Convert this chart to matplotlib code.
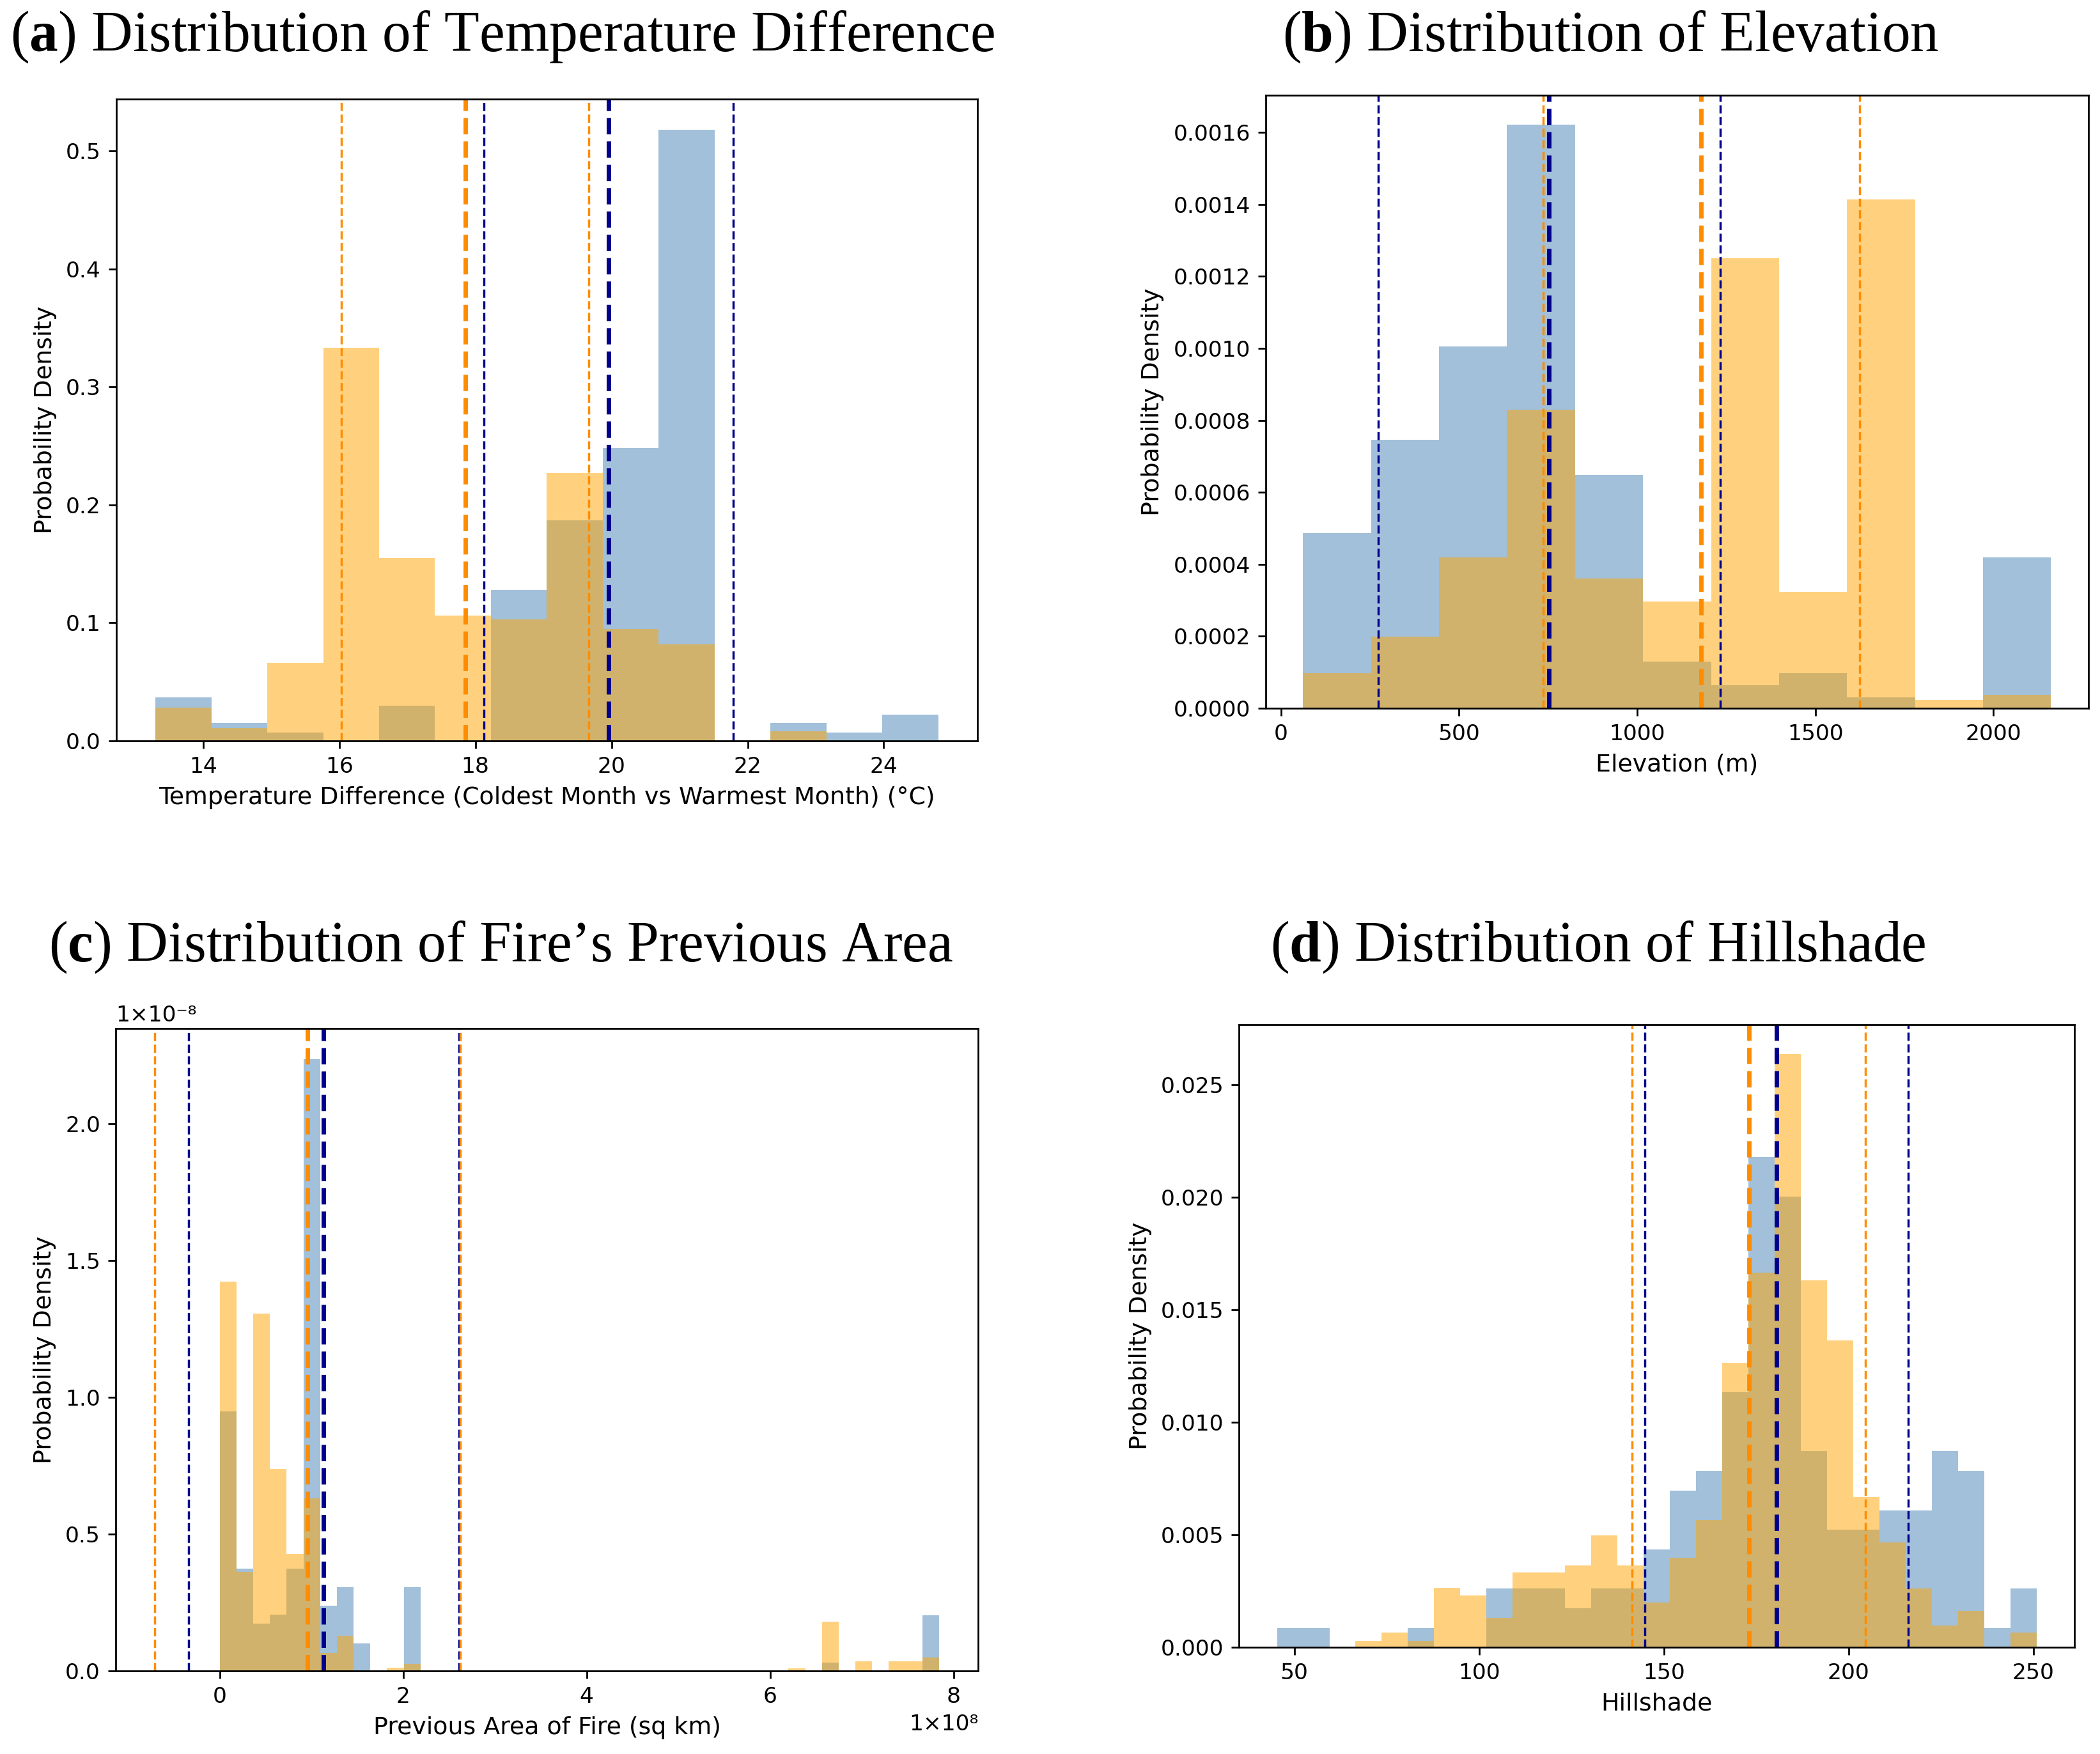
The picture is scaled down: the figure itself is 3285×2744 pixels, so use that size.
import numpy as np
import matplotlib
matplotlib.use('Agg')
import matplotlib.pyplot as plt
from matplotlib import ticker

# ---- data (densities per bin) ----
# (a) temperature difference, 14 shared bins
temp_lo, temp_hi, temp_nbins = 13.30, 24.80, 14
temp_no_fire = [0.037, 0.015, 0.007, 0.0, 0.030, 0.0, 0.128, 0.187, 0.248, 0.518, 0.0, 0.015, 0.007, 0.0225]
temp_fire = [0.028, 0.011, 0.066, 0.333, 0.155, 0.106, 0.103, 0.227, 0.095, 0.082, 0.0, 0.008, 0.0, 0.0]
temp_mean = {'no_fire': 19.96, 'fire': 17.85}
temp_std = {'no_fire': 1.83, 'fire': 1.815}

# (b) elevation, 11 shared bins
elev_lo, elev_hi, elev_nbins = 62, 2162, 11
elev_no_fire = [0.000486, 0.000746, 0.001005, 0.001622, 0.000648, 0.000130,
                0.0000648, 0.0000971, 0.000031, 0.0, 0.000419]
elev_fire = [0.0000971, 0.000199, 0.000419, 0.000829, 0.000361, 0.000296,
             0.001251, 0.000324, 0.001413, 0.0000235, 0.0000368]
elev_mean = {'no_fire': 753, 'fire': 1180}
elev_std = {'no_fire': 480, 'fire': 444}

# (c) previous area of fire (x in 1e8, density in 1e-8), 43 shared bins
area_lo, area_hi, area_nbins = 0.0, 7.84e8, 43
area_no_fire = [0.949, 0.373, 0.172, 0.206, 0.373, 2.238, 0.238, 0.306, 0.0998, 0.0,
                0.0, 0.306, 0.0, 0.0, 0.0, 0.0, 0.0, 0.0, 0.0, 0.0,
                0.0, 0.0, 0.0, 0.0, 0.0, 0.0, 0.0, 0.0, 0.0, 0.0,
                0.0, 0.0, 0.0, 0.0, 0.0, 0.0, 0.031, 0.0, 0.0, 0.0,
                0.0, 0.0, 0.203]
area_fire = [1.424, 0.3625, 1.307, 0.739, 0.427, 0.631, 0.0645, 0.129, 0.0, 0.0,
             0.0108, 0.0246, 0.0, 0.0, 0.0, 0.0, 0.0, 0.0, 0.0, 0.0,
             0.0, 0.0, 0.0, 0.0, 0.0, 0.0, 0.0, 0.0, 0.0, 0.0,
             0.0, 0.0, 0.0, 0.0, 0.0101, 0.0, 0.180, 0.0, 0.0357, 0.0,
             0.0357, 0.0357, 0.048]
area_mean = {'no_fire': 1.133e8, 'fire': 0.956e8}
area_std = {'no_fire': 1.473e8, 'fire': 1.663e8}

# (d) hillshade, 29 shared bins
hill_lo, hill_hi, hill_nbins = 45.3, 250.9, 29
hill_no_fire = [0.00085, 0.00085, 0.0, 0.0, 0.0, 0.00085, 0.0, 0.0, 0.00261, 0.00261,
                0.00261, 0.00172, 0.00261, 0.00261, 0.00435, 0.00697, 0.00784, 0.01134, 0.0218, 0.02004,
                0.00872, 0.00522, 0.00522, 0.00608, 0.00608, 0.00872, 0.00784, 0.00085, 0.00261]
hill_fire = [0.0, 0.0, 0.0, 0.00027, 0.00065, 0.00027, 0.00263, 0.0023, 0.0013, 0.00332,
             0.00332, 0.00363, 0.00497, 0.00363, 0.00198, 0.00397, 0.00566, 0.01264, 0.01665, 0.02636,
             0.01632, 0.01364, 0.00666, 0.00466, 0.00261, 0.00096, 0.00163, 0.0, 0.00065]
hill_mean = {'no_fire': 180.5, 'fire': 173.04}
hill_std = {'no_fire': 35.57, 'fire': 31.55}

# title fonts (Palatino-ish captions -> serif)
plt.rcParams['mathtext.rm'] = 'Liberation Serif'
plt.rcParams['mathtext.bf'] = 'Liberation Serif:bold'
plt.rcParams['mathtext.it'] = 'Liberation Serif:italic'

SUP = str.maketrans('-0123456789', '⁻⁰¹²³⁴⁵⁶⁷⁸⁹')


class OneTimesFormatter(ticker.ScalarFormatter):
    # offset shown as 1×10ⁿ
    def get_offset(self):
        if len(self.locs) == 0 or not self.orderOfMagnitude:
            return ''
        return '1×10' + str(self.orderOfMagnitude).translate(SUP)


def draw_panel(ax, lo, hi, nbins, no_fire, fire, mean, std, xlabel):
    edges = np.linspace(lo, hi, nbins + 1)
    ax.hist(edges[:-1], bins=edges, weights=no_fire, color='steelblue', alpha=0.5)
    ax.hist(edges[:-1], bins=edges, weights=fire, color='orange', alpha=0.5)
    for key, col in [('no_fire', 'darkblue'), ('fire', 'darkorange')]:
        ax.axvline(mean[key], color=col, linestyle='--', linewidth=2)
        ax.axvline(mean[key] - std[key], color=col, linestyle='--', linewidth=1)
        ax.axvline(mean[key] + std[key], color=col, linestyle='--', linewidth=1)
    ax.set_xlabel(xlabel, fontsize=11)
    ax.set_ylabel('Probability Density', fontsize=11)


fig = plt.figure(figsize=(3285 / 248, 2744 / 248), dpi=248)

ax_a = fig.add_axes([0.0554, 0.5776, 0.4100, 0.3659])
ax_b = fig.add_axes([0.6027, 0.5962, 0.3918, 0.3495])
ax_c = fig.add_axes([0.0551, 0.0474, 0.4107, 0.3663])
ax_d = fig.add_axes([0.5900, 0.0609, 0.3979, 0.3550])

draw_panel(ax_a, temp_lo, temp_hi, temp_nbins, temp_no_fire, temp_fire, temp_mean, temp_std,
           'Temperature Difference (Coldest Month vs Warmest Month) (°C)')
draw_panel(ax_b, elev_lo, elev_hi, elev_nbins, elev_no_fire, elev_fire, elev_mean, elev_std,
           'Elevation (m)')
draw_panel(ax_c, area_lo, area_hi, area_nbins, np.array(area_no_fire) * 1e-8,
           np.array(area_fire) * 1e-8, area_mean, area_std, 'Previous Area of Fire (sq km)')
draw_panel(ax_d, hill_lo, hill_hi, hill_nbins, hill_no_fire, hill_fire, hill_mean, hill_std,
           'Hillshade')

ax_c.xaxis.set_major_formatter(OneTimesFormatter())
ax_c.yaxis.set_major_formatter(OneTimesFormatter())

titles = [
    (0.2393, 0.971, r'($\mathbf{a}$) Distribution of Temperature Difference'),
    (0.7670, 0.971, r'($\mathbf{b}$) Distribution of Elevation'),
    (0.2386, 0.452, r'($\mathbf{c}$) Distribution of Fire’s Previous Area'),
    (0.7610, 0.452, r'($\mathbf{d}$) Distribution of Hillshade'),
]
for x, y, t in titles:
    fig.text(x, y, t, ha='center', va='baseline', fontsize=26,
             family='Liberation Serif', math_fontfamily='custom')

fig.savefig('out.png', dpi=248)
